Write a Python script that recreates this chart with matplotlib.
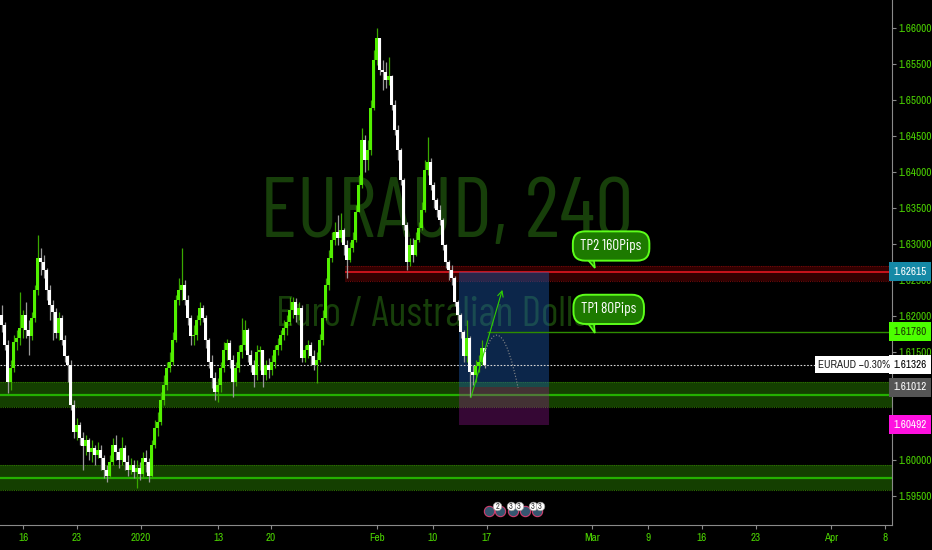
import numpy as np
import matplotlib.pyplot as plt
from matplotlib.patches import Rectangle, Polygon, PathPatch
from matplotlib.path import Path

plt.rcParams['font.family'] = ['Archivo Narrow', 'DejaVu Sans']
mark_font = ['Barlow Condensed', 'DejaVu Sans']

# EURAUD 4H candles (open of each bar = previous close)
first_open = 1.6201
closes = [
    1.6187, 1.6160, 1.6108, 1.6128, 1.6164, 1.6169, 1.6183, 1.6201, 1.6181, 1.6172,
    1.6197, 1.6236, 1.6281, 1.6275, 1.6264, 1.6236, 1.6215, 1.6206, 1.6176, 1.6197,
    1.6167, 1.6144, 1.6132, 1.6076, 1.6039, 1.6049, 1.6031, 1.6019, 1.6028, 1.6011,
    1.6017, 1.6007, 1.6014, 1.6003, 1.5986, 1.5978, 1.5997, 1.6021, 1.6011, 1.6000,
    1.6017, 1.5997, 1.5986, 1.5993, 1.5983, 1.5989, 1.5981, 1.6003, 1.5997, 1.5978,
    1.6021, 1.6044, 1.6053, 1.6083, 1.6104, 1.6128, 1.6136, 1.6167, 1.6222, 1.6236,
    1.6243, 1.6222, 1.6197, 1.6172, 1.6174, 1.6194, 1.6211, 1.6197, 1.6167, 1.6136,
    1.6114, 1.6094, 1.6104, 1.6128, 1.6153, 1.6162, 1.6139, 1.6108, 1.6128, 1.6150,
    1.6160, 1.6181, 1.6146, 1.6132, 1.6118, 1.6150, 1.6153, 1.6118, 1.6132, 1.6125,
    1.6136, 1.6153, 1.6160, 1.6174, 1.6183, 1.6192, 1.6208, 1.6219, 1.6201, 1.6211,
    1.6142, 1.6153, 1.6160, 1.6144, 1.6132, 1.6139, 1.6167, 1.6197, 1.6243, 1.6281,
    1.6306, 1.6317, 1.6308, 1.6319, 1.6299, 1.6278, 1.6294, 1.6306, 1.6344, 1.6382,
    1.6444, 1.6417, 1.6431, 1.6489, 1.6556, 1.6586, 1.6542, 1.6539, 1.6528, 1.6533,
    1.6493, 1.6458, 1.6431, 1.6389, 1.6326, 1.6275, 1.6299, 1.6285, 1.6306, 1.6322,
    1.6347, 1.6403, 1.6414, 1.6382, 1.6361, 1.6347, 1.6333, 1.6299, 1.6275, 1.6264,
    1.6253, 1.6219, 1.6201, 1.6178, 1.6144, 1.6169, 1.6122, 1.6118, 1.6131, 1.6136,
    1.6156, 1.61326]
highs = [
    1.6215, 1.6192, 1.6167, 1.6139, 1.6174, 1.6181, 1.6233, 1.6208, 1.6219, 1.6194,
    1.6206, 1.6243, 1.6312, 1.6294, 1.6285, 1.6267, 1.6243, 1.6222, 1.6211, 1.6206,
    1.6201, 1.6174, 1.6146, 1.6139, 1.6083, 1.6058, 1.6053, 1.6039, 1.6035, 1.6031,
    1.6028, 1.6021, 1.6025, 1.6021, 1.6007, 1.5993, 1.6007, 1.6031, 1.6035, 1.6017,
    1.6032, 1.6021, 1.6007, 1.6003, 1.6000, 1.6000, 1.5997, 1.6011, 1.6014, 1.6003,
    1.6028, 1.6056, 1.6067, 1.6094, 1.6118, 1.6136, 1.6150, 1.6178, 1.6229, 1.6253,
    1.6294, 1.6250, 1.6229, 1.6201, 1.6187, 1.6201, 1.6219, 1.6215, 1.6201, 1.6169,
    1.6146, 1.6122, 1.6114, 1.6136, 1.6164, 1.6168, 1.6167, 1.6146, 1.6136, 1.6160,
    1.6197, 1.6194, 1.6183, 1.6153, 1.6139, 1.6160, 1.6158, 1.6153, 1.6139, 1.6142,
    1.6146, 1.6160, 1.6169, 1.6181, 1.6194, 1.6201, 1.6226, 1.6226, 1.6225, 1.6219,
    1.6215, 1.6160, 1.6167, 1.6164, 1.6153, 1.6150, 1.6175, 1.6208, 1.6253, 1.6292,
    1.6317, 1.6331, 1.6340, 1.6343, 1.6322, 1.6306, 1.6303, 1.6317, 1.6354, 1.6396,
    1.6461, 1.6451, 1.6444, 1.6500, 1.6569, 1.6600, 1.6583, 1.6556, 1.6553, 1.6560,
    1.6535, 1.6500, 1.6465, 1.6433, 1.6392, 1.6331, 1.6308, 1.6308, 1.6317, 1.6331,
    1.6358, 1.6417, 1.6449, 1.6419, 1.6386, 1.6364, 1.6354, 1.6336, 1.6300, 1.6278,
    1.6271, 1.6256, 1.6222, 1.6204, 1.6181, 1.6194, 1.6172, 1.6132, 1.6139, 1.6146,
    1.6167, 1.6150]
lows = [
    1.6178, 1.6153, 1.6093, 1.6097, 1.6122, 1.6153, 1.6160, 1.6169, 1.6169, 1.6146,
    1.6167, 1.6192, 1.6229, 1.6257, 1.6253, 1.6222, 1.6194, 1.6167, 1.6169, 1.6167,
    1.6160, 1.6136, 1.6108, 1.6069, 1.6031, 1.6028, 1.6021, 1.5986, 1.6007, 1.6000,
    1.5997, 1.5993, 1.6003, 1.5986, 1.5975, 1.5969, 1.5975, 1.5993, 1.6000, 1.5989,
    1.5993, 1.5986, 1.5978, 1.5981, 1.5975, 1.5961, 1.5972, 1.5975, 1.5983, 1.5969,
    1.5975, 1.6017, 1.6033, 1.6049, 1.6076, 1.6097, 1.6122, 1.6132, 1.6164, 1.6215,
    1.6222, 1.6215, 1.6187, 1.6160, 1.6160, 1.6167, 1.6187, 1.6192, 1.6156, 1.6128,
    1.6100, 1.6083, 1.6081, 1.6094, 1.6122, 1.6139, 1.6128, 1.6087, 1.6103, 1.6122,
    1.6142, 1.6153, 1.6136, 1.6122, 1.6101, 1.6111, 1.6125, 1.6101, 1.6111, 1.6114,
    1.6118, 1.6128, 1.6146, 1.6153, 1.6167, 1.6174, 1.6187, 1.6197, 1.6192, 1.6194,
    1.6136, 1.6136, 1.6142, 1.6132, 1.6125, 1.6107, 1.6136, 1.6160, 1.6194, 1.6236,
    1.6275, 1.6299, 1.6299, 1.6303, 1.6285, 1.6253, 1.6275, 1.6289, 1.6303, 1.6344,
    1.6378, 1.6400, 1.6403, 1.6424, 1.6486, 1.6549, 1.6535, 1.6514, 1.6517, 1.6521,
    1.6486, 1.6451, 1.6417, 1.6382, 1.6319, 1.6264, 1.6269, 1.6275, 1.6283, 1.6303,
    1.6319, 1.6344, 1.6396, 1.6375, 1.6350, 1.6338, 1.6326, 1.6292, 1.6267, 1.6250,
    1.6243, 1.6214, 1.6194, 1.6169, 1.6136, 1.6136, 1.6087, 1.6104, 1.6108, 1.6122,
    1.6132, 1.6128]

# date axis (bar index of each label)
date_ticks = [7.2, 25.2, 46.5, 72.2, 89.8, 125.2, 143.8, 161.8, 196.8, 215.5, 233.5, 251.5, 276.5, 294.5]
date_labels = ['16', '23', '2020', '13', '20', 'Feb', '10', '17', 'Mar', '9', '16', '23', 'Apr', '8']
price_ticks = [1.595, 1.600, 1.605, 1.610, 1.615, 1.620, 1.625, 1.630, 1.635, 1.640,
               1.645, 1.650, 1.655, 1.660]
hidden_ticks = [1.605, 1.610]   # covered by the entry / stop tags

# drawings
support_zones = [(1.6074, 1.6090, 1.6108), (1.5958, 1.5975, 1.5993)]  # low, mid, high
resist_zone = (1.6249, 1.62615, 1.6270)
resist_start = 114.5
tp1_level = 1.6178
tp1_start = 161.8
entry, stop, target = 1.61012, 1.60492, 1.62615
box_x0, box_x1 = 152.5, 182.5
last_price = 1.61326
arrow_from, arrow_to = (156.2, 1.6083), (167.2, 1.6240)
arc_pts = [(161.2, 1.6150), (166.5, 1.6215), (172.2, 1.6100)]

green = '#4cd400'
fig = plt.figure(figsize=(9.32, 5.5), dpi=100, facecolor='black')
ax = fig.add_axes([0, 25 / 550, 892 / 932, 525 / 550])
ax.set_facecolor('black')
xmin, xmax = -0.5, 296.83
ax.set_xlim(xmin, xmax)
ax.set_ylim(1.59097, 1.66389)

# watermark
ax.text(0.501, 0.59, 'EURAUD, 240', transform=ax.transAxes, ha='center', va='center',
        fontsize=62, color='#173f0a', zorder=0.5, family=mark_font)
ax.text(0.493, 0.40, 'Euro / Australian Dollar', transform=ax.transAxes, ha='center', va='center',
        fontsize=30, color='#173f0a', zorder=0.5, family=mark_font)

# support zones
for zlo, zmid, zhi in support_zones:
    ax.axhspan(zlo, zhi, color='#143f00', zorder=1, lw=0)
    ax.axhline(zlo, color='#2c7000', lw=0.8, ls=(0, (1, 1)), zorder=1.2)
    ax.axhline(zhi, color='#2c7000', lw=0.8, ls=(0, (1, 1)), zorder=1.2)
    ax.axhline(zmid, color='#24b000', lw=1.6, zorder=1.3)

# resistance zone
rlo, rmid, rhi = resist_zone
ax.add_patch(Rectangle((resist_start, rlo), xmax - resist_start, rhi - rlo, fc='#320000', ec='none', zorder=1))
ax.hlines([rlo, rhi], resist_start, xmax, colors='#6e0a0a', lw=0.8, linestyles=(0, (1, 1)), zorder=1.2)
ax.hlines(rmid, resist_start, xmax, colors='#c8141c', lw=1.4, zorder=1.3)

# long position box
ax.add_patch(Rectangle((box_x0, entry), box_x1 - box_x0, target - entry, fc='#1e5cb3', alpha=0.42, ec='none', zorder=2))
ax.add_patch(Rectangle((box_x0, stop), box_x1 - box_x0, entry - stop, fc='#a3189f', alpha=0.33, ec='none', zorder=2))

# TP1 line and last price line
ax.hlines(tp1_level, tp1_start, xmax, colors='#2e8c00', lw=1.0, zorder=2.5)
ax.axhline(last_price, color='#d8d8d8', lw=0.8, ls=(0, (1.5, 1.5)), zorder=2.5)

# candles
c = np.array(closes)
o = np.r_[first_open, c[:-1]]
hi = np.maximum(np.array(highs), np.maximum(o, c))
lo = np.minimum(np.array(lows), np.minimum(o, c))
x = np.arange(len(c))
up = c >= o
body_col = ['#52f000' if u else '#ffffff' for u in up]
wick_col = ['#3aa800' if u else '#9a9a9a' for u in up]
ax.vlines(x, lo, hi, colors=wick_col, lw=0.9, zorder=3)
ax.bar(x, np.maximum(np.abs(c - o), 0.00012), bottom=np.minimum(o, c), width=0.72,
       color=body_col, lw=0, zorder=4)

# projection arrow and arc
ax.annotate('', xy=arrow_to, xytext=arrow_from,
            arrowprops=dict(arrowstyle='->', color='#2fd000', lw=0.8), zorder=5)
ax.add_patch(PathPatch(Path(arc_pts, [Path.MOVETO, Path.CURVE3, Path.CURVE3]),
                       fc='none', ec='#8a8a8a', lw=0.8, ls=':', zorder=5))

# speech bubbles
def bubble(xc, yc, txt, tail):
    ax.text(xc, yc, txt, ha='center', va='center', color='white', fontsize=11, zorder=9,
            family=mark_font,
            bbox=dict(boxstyle='round,pad=0.5,rounding_size=0.8', fc='#1d7a00', ec='#5cff1a', lw=1.4))
    ax.add_patch(Polygon(tail, closed=True, fc='#1d7a00', ec='#5cff1a', lw=1.2, zorder=8.9))

bubble(203.2, 1.62972, 'TP2 160Pips', [(195.0, 1.62800), (197.4, 1.62800), (197.8, 1.62667)])
bubble(202.4, 1.62092, 'TP1 80Pips', [(195.0, 1.61925), (197.4, 1.61925), (197.8, 1.61764)])

# event markers on bottom
ev_x = [162.5, 166.2, 170.5, 174.5, 178.5]
ev_num_x = [165.2, 169.8, 172.5, 177.2, 179.5]
ev_nums = ['2', '3', '3', '3', '3']
ax.scatter(ev_x, [0.027] * len(ev_x), transform=ax.get_xaxis_transform(), s=55,
           c='#34566f', edgecolors='#d04070', linewidths=0.8, zorder=6, clip_on=False)
ax.scatter(ev_num_x, [0.036] * len(ev_num_x), transform=ax.get_xaxis_transform(), s=38,
           c='white', edgecolors='#999999', linewidths=0.5, zorder=7, clip_on=False)
for xe, ne in zip(ev_num_x, ev_nums):
    ax.text(xe, 0.036, ne, transform=ax.get_xaxis_transform(), ha='center', va='center',
            fontsize=6, color='#333333', zorder=8)

# axes styling
for s in ['top', 'left']:
    ax.spines[s].set_visible(False)
ax.spines['right'].set_color('#8a8a8a')
ax.spines['bottom'].set_color('#8a8a8a')
ax.yaxis.tick_right()
ax.set_yticks(price_ticks)
ax.set_yticklabels(['' if p in hidden_ticks else '%.5f' % p for p in price_ticks])
ax.tick_params(axis='y', colors='#8a8a8a', labelcolor=green, labelsize=8, length=3, pad=2)
ax.set_xticks(date_ticks)
ax.set_xticklabels(date_labels)
ax.tick_params(axis='x', colors='#8a8a8a', labelcolor=green, labelsize=8, length=3, pad=3)

# price tags on the right axis
tags = [(target, '1.62615', '#1589a6', 'white'),
        (tp1_level, '1.61780', '#4cff00', '#1a3a00'),
        (last_price, '1.61326', 'white', 'black'),
        (entry, '1.61012', '#555555', 'white'),
        (stop, '1.60492', '#ff10e0', 'white')]
for p, txt, fc, tc in tags:
    ax.text(1.002, p, txt, transform=ax.get_yaxis_transform(), ha='left', va='center',
            fontsize=8, color=tc, zorder=10, clip_on=False,
            bbox=dict(boxstyle='square,pad=0.4', fc=fc, ec='none'))
ax.text(0.998, last_price, 'EURAUD \u22120.30%', transform=ax.get_yaxis_transform(),
        ha='right', va='center', fontsize=8, color='#222222', zorder=10,
        bbox=dict(boxstyle='square,pad=0.3', fc='white', ec='none'))

fig.savefig('out.png', dpi=100, facecolor='black')
